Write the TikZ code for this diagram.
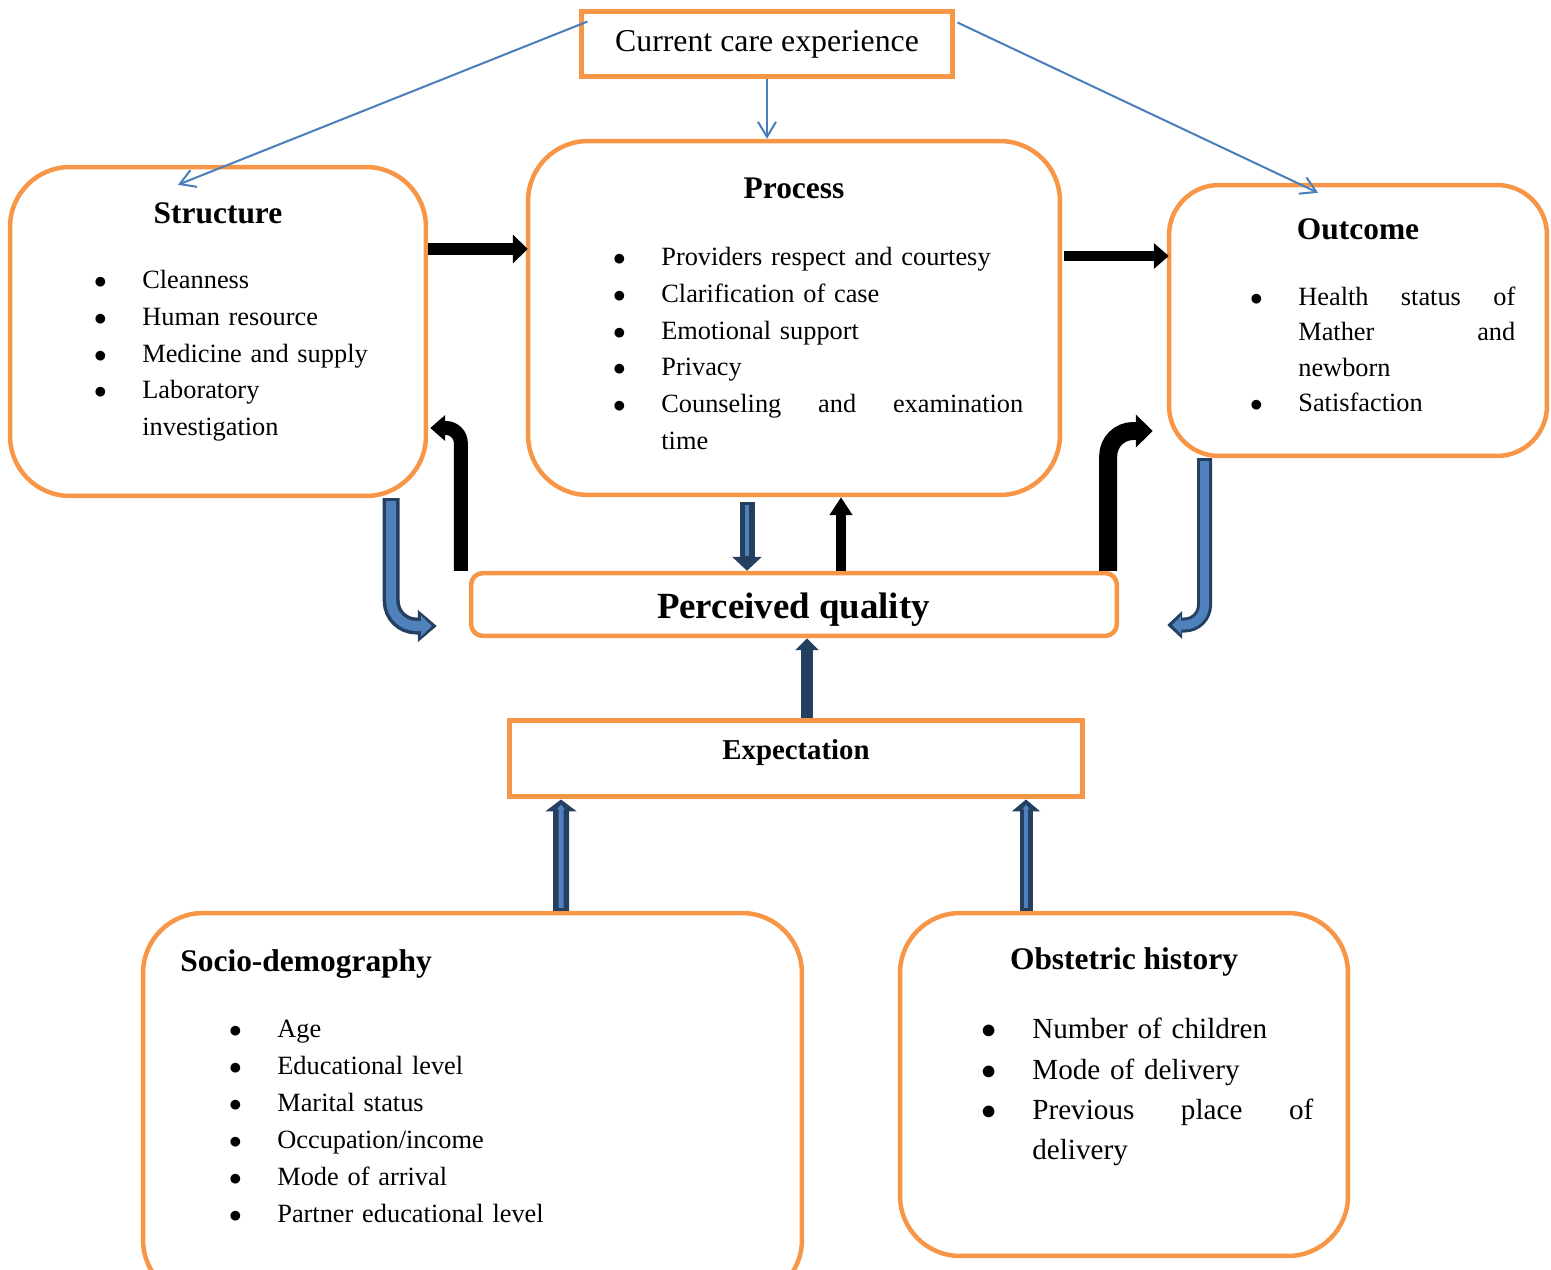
\documentclass[tikz,border=0pt]{standalone}
\usepackage{fontspec}
\setmainfont{Liberation Serif}
\usepackage{enumitem}
\usetikzlibrary{arrows.meta,calc}
\definecolor{boxorange}{HTML}{F79646}
\definecolor{linkblue}{HTML}{4A7EBB}
\definecolor{fatblue}{HTML}{4F81BD}
\definecolor{fatdark}{HTML}{243F60}
\setlist[itemize]{nosep, label=$\bullet$, leftmargin=0.84cm, labelsep=0.71cm}
\tikzset{
	rbox/.style={draw=boxorange, line width=0.09cm, rounded corners=1.2cm, inner sep=0pt},
	sbox/.style={draw=boxorange, line width=0.1cm, inner sep=0pt},
	head/.style={font=\fontsize{17.9}{21}\selectfont\bfseries, inner sep=0pt},
	lst/.style={anchor=north west, inner sep=0pt, font=\fontsize{15}{21}\selectfont},
	link/.style={draw=linkblue, line width=0.04cm, -{Straight Barb[length=0.3cm,width=0.36cm]}},
	blk/.style={draw=black, line cap=butt},
	fat/.style={draw=fatdark, line cap=butt},
	fatin/.style={draw=fatblue, line cap=butt, shorten <=0.06cm, shorten >=0.1cm}
}
\begin{document}
\begin{tikzpicture}[x=0.02cm, y=-0.02cm]
		%%%%% START %%%%%
		\useasboundingbox (0,0) rectangle (1551,1270);
		
		\node[sbox, minimum width=7.44cm, minimum height=1.32cm, font=\fontsize{18.1}{22}\selectfont] (cur) at (767,44) {Current care experience};
		
		\node[rbox, minimum width=8.32cm, minimum height=6.58cm] (struct) at (218,331.5) {};
		\node[rbox, minimum width=10.64cm, minimum height=7.08cm] (proc) at (794,318) {};
		\node[rbox, rounded corners=1cm, minimum width=7.56cm, minimum height=5.42cm] (outc) at (1358,320.5) {};
		\node[rbox, rounded corners=0.24cm, minimum width=12.92cm, minimum height=1.26cm] (perc) at (794,604.5) {};
		\node[sbox, minimum width=11.48cm, minimum height=1.54cm] (expe) at (796,758.5) {};
		\node[rbox, minimum width=13.18cm, minimum height=7.74cm] (socio) at (472.5,1106.5) {};
		\node[rbox, minimum width=8.96cm, minimum height=6.86cm] (obst) at (1124,1084.5) {};
		
		\node[head] (sthead) at (218,213) {Structure};
		\node[head] (prhead) at (794,188) {Process};
		\node[head] (ouhead) at (1358,229) {Outcome};
		\node[head, font=\fontsize{21}{24}\selectfont\bfseries] (pqhead) at (793.5,610) {Perceived quality};
		\node[head, font=\fontsize{16.4}{20}\selectfont\bfseries] (exhead) at (796,753) {Expectation};
		\node[head, anchor=west] (sohead) at (180,964) {Socio-demography};
		\node[head] (obhead) at (1124,962) {Obstetric history};
		
		\node[lst, text width=6cm] (stlist) at (100,251) {\begin{itemize}
			\item Cleanness
			\item Human resource
			\item Medicine and supply
			\item Laboratory\\ investigation
		\end{itemize}};
		\node[lst, text width=8.08cm] (prlist) at (619,228) {\begin{itemize}
			\item Providers respect and courtesy
			\item Clarification of case
			\item Emotional support
			\item Privacy
			\item Counseling \hfill and \hfill examination\\ time
		\end{itemize}};
		\node[lst, text width=5.18cm, font=\fontsize{15}{20.1}\selectfont] (oulist) at (1256,270) {\begin{itemize}
			\item Health \hfill status \hfill of\\ Mather \hfill and\\ newborn
			\item Satisfaction
		\end{itemize}};
		\node[lst, text width=6.6cm, font=\fontsize{15}{21.1}\selectfont] (solist) at (235,1000) {\begin{itemize}
			\item Age
			\item Educational level
			\item Marital status
			\item Occupation/income
			\item Mode of arrival
			\item Partner educational level
		\end{itemize}};
		\node[lst, text width=6.46cm, font=\fontsize{16.6}{23}\selectfont] (oblist) at (990,998) {\begin{itemize}
			\item Number of children
			\item Mode of delivery
			\item Previous \hfill place \hfill of\\ delivery
		\end{itemize}};
		
		% current care experience
		\draw[link] ([shift={(9,13)}]cur.north west) -- ([shift={(-40,20)}]struct.north);
		\draw[link] (cur.south) -- (cur.south |- proc.north);
		\draw[link] ([shift={(2,14)}]cur.north east) -- ([shift={(-40,10)}]outc.north);
		
		% black arrows
		\draw[blk, line width=0.24cm, -{Triangle[length=0.3cm,width=0.56cm]}] ([shift={(0,-82.5)}]struct.east) -- ([shift={(2,-69)}]proc.west);
		\draw[blk, line width=0.2cm, -{Triangle[length=0.3cm,width=0.5cm]}] ([shift={(2,-62)}]proc.east) -- ([shift={(2,-64.5)}]outc.west);
		\draw[blk, line width=0.2cm, -{Triangle[length=0.36cm,width=0.44cm]}] ([shift={(47,0)}]perc.north) -- ([shift={(47,0)}]proc.south);
		\draw[blk, line width=0.28cm, rounded corners=0.3cm, -{Triangle[length=0.3cm,width=0.5cm]}] ([shift={(-8,0)}]perc.north west) |- ([shift={(2,96.5)}]struct.east);
		\draw[blk, line width=0.36cm, rounded corners=0.5cm, -{Triangle[length=0.34cm,width=0.64cm]}] ([shift={(-11,0)}]perc.north east) |- ([shift={(-14,110.5)}]outc.west);
		
		% blue arrows
		\draw[fat, line width=0.34cm, rounded corners=0.5cm, -{Triangle[length=0.38cm,width=0.62cm]}] ([shift={(-37,0)}]struct.south east) |- ([shift={(-32,21.5)}]perc.west);
		\draw[fatin, line width=0.2cm, rounded corners=0.5cm, -{Triangle[length=0.22cm,width=0.42cm]}] ([shift={(-37,0)}]struct.south east) |- ([shift={(-32,21.5)}]perc.west);
		
		\draw[fat, line width=0.3cm, rounded corners=0.4cm, -{Triangle[length=0.3cm,width=0.54cm]}] ([shift={(-153.5,0)}]outc.south) |- ([shift={(48,20.5)}]perc.east);
		\draw[fatin, line width=0.18cm, rounded corners=0.4cm, -{Triangle[length=0.18cm,width=0.36cm]}] ([shift={(-153.5,0)}]outc.south) |- ([shift={(48,20.5)}]perc.east);
		
		\draw[fat, line width=0.3cm, -{Triangle[length=0.28cm,width=0.58cm]}] ([shift={(-47,5)}]proc.south) -- ([shift={(-47,0)}]perc.north);
		\draw[fatin, line width=0.08cm, shorten >=0.3cm] ([shift={(-47,5)}]proc.south) -- ([shift={(-47,0)}]perc.north);
		
		\draw[fat, line width=0.24cm, -{Triangle[length=0.24cm,width=0.46cm]}] ([shift={(11,0)}]expe.north) -- ([shift={(13,0)}]perc.south);
		
		\draw[fat, line width=0.32cm, -{Triangle[length=0.24cm,width=0.62cm]}] ([shift={(88.5,0)}]socio.north) -- ([shift={(-235,0)}]expe.south);
		\draw[fatin, line width=0.1cm, -{Triangle[length=0.1cm,width=0.16cm]}] ([shift={(88.5,0)}]socio.north) -- ([shift={(-235,0)}]expe.south);
		\draw[fat, line width=0.26cm, -{Triangle[length=0.24cm,width=0.56cm]}] ([shift={(-98,0)}]obst.north) -- ([shift={(230,0)}]expe.south);
		\draw[fatin, line width=0.08cm, -{Triangle[length=0.1cm,width=0.14cm]}] ([shift={(-98,0)}]obst.north) -- ([shift={(230,0)}]expe.south);
		
		%%%%% END %%%%%
	\end{tikzpicture}
\end{document}
